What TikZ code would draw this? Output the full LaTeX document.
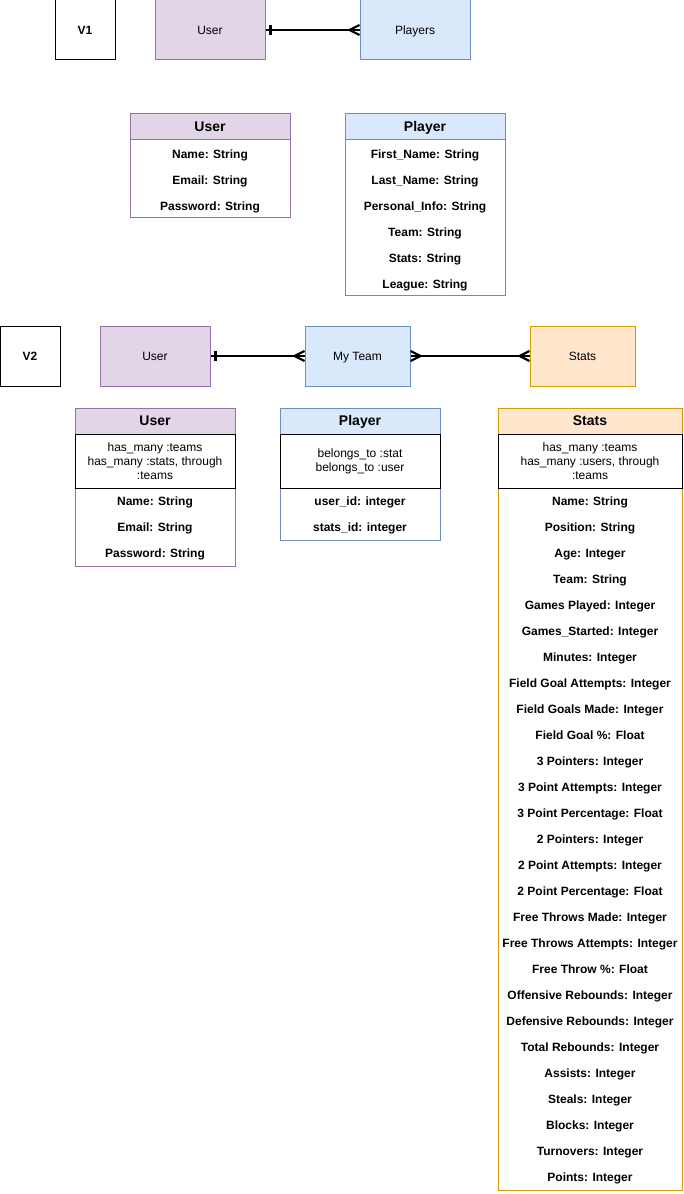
\documentclass[tikz,border=0pt]{standalone}
\usepackage{fontspec}
\setmainfont{Liberation Sans}
\usetikzlibrary{calc}
\definecolor{pfill}{HTML}{E1D5E7}
\definecolor{pstroke}{HTML}{9673A6}
\definecolor{bfill}{HTML}{DAE8FC}
\definecolor{bstroke}{HTML}{6C8EBF}
\definecolor{ofill}{HTML}{FFE6CC}
\definecolor{ostroke}{HTML}{D79B00}
\begin{document}
\begin{tikzpicture}[x=0.75pt,y=-0.75pt,
  box/.style 2 args={draw, minimum width=#1*0.75pt, minimum height=#2*0.75pt, inner sep=0pt, line width=0.75pt},
  oneline/.style={text height=0.85em, text depth=0.15em},
  lbl/.style={oneline, font=\fontsize{9}{11}\selectfont},
  blbl/.style={oneline, font=\fontsize{9}{11}\selectfont\bfseries},
  hdr/.style={oneline, font=\fontsize{10.5}{12}\selectfont\bfseries},
  field/.style={oneline, inner sep=0pt, font=\fontsize{9}{11}\selectfont\bfseries},
  rel/.style={draw=black, fill=white, align=center, font=\fontsize{9}{10.5}\selectfont},
  conn/.style={line width=1.6pt, black},
  purple/.style={draw=pstroke, fill=pfill},
  blue/.style={draw=bstroke, fill=bfill},
  orange/.style={draw=ostroke, fill=ofill}]
\useasboundingbox (0,0) rectangle (683,1194);

% ---------- V1 ----------
\node[box={60}{60}, blbl] (v1) at (85,30) {V1};
\node[box={110}{60}, purple, lbl] (u1) at (210,30) {User};
\node[box={110}{60}, blue, lbl] (p1) at (415,30) {Players};
\draw[conn] (u1.east) -- (p1.west);
\draw[conn] ($(u1.east)+(5,-5)$) -- ($(u1.east)+(5,5)$);
\draw[conn] ($(p1.west)+(-10,0)$) -- ($(p1.west)+(0,-5)$);
\draw[conn] ($(p1.west)+(-10,0)$) -- ($(p1.west)+(0,5)$);

% V1 User table
\node[box={160}{104}, draw=pstroke, fill=white] (tu1) at (210,166) {};
\node[box={160}{26}, purple, hdr] (tu1h) at (210,127) {User};
\node[field] (tu1a) at (210,154) {Name: String};
\node[field] (tu1b) at (210,180) {Email: String};
\node[field] (tu1c) at (210,206) {Password: String};

% V1 Player table
\node[box={160}{182}, draw=bstroke, fill=white] (tp1) at (425,205) {};
\node[box={160}{26}, blue, hdr] (tp1h) at (425,127) {Player};
\node[field] (tp1a) at (425,154) {First\_Name: String};
\node[field] (tp1b) at (425,180) {Last\_Name: String};
\node[field] (tp1c) at (425,206) {Personal\_Info: String};
\node[field] (tp1d) at (425,232) {Team: String};
\node[field] (tp1e) at (425,258) {Stats: String};
\node[field] (tp1f) at (425,284) {League: String};

% ---------- V2 ----------
\node[box={60}{60}, blbl] (v2) at (30,356) {V2};
\node[box={110}{60}, purple, lbl] (u2) at (155,356) {User};
\node[box={105}{60}, blue, lbl] (m2) at (357.5,356) {My Team};
\node[box={105}{60}, orange, lbl] (s2) at (582.5,356) {Stats};
\draw[conn] (u2.east) -- (m2.west);
\draw[conn] ($(u2.east)+(5,-5)$) -- ($(u2.east)+(5,5)$);
\draw[conn] ($(m2.west)+(-10,0)$) -- ($(m2.west)+(0,-5)$);
\draw[conn] ($(m2.west)+(-10,0)$) -- ($(m2.west)+(0,5)$);
\draw[conn] (m2.east) -- (s2.west);
\draw[conn] ($(m2.east)+(10,0)$) -- ($(m2.east)+(0,-5)$);
\draw[conn] ($(m2.east)+(10,0)$) -- ($(m2.east)+(0,5)$);
\draw[conn] ($(s2.west)+(-10,0)$) -- ($(s2.west)+(0,-5)$);
\draw[conn] ($(s2.west)+(-10,0)$) -- ($(s2.west)+(0,5)$);

% V2 User table
\node[box={160}{158}, draw=pstroke, fill=white] (tu2) at (155,487) {};
\node[box={160}{26}, purple, hdr] (tu2h) at (155,421) {User};
\node[box={160}{54}, rel] (tu2r) at (155,461) {has\_many :teams\\has\_many :stats, through\\:teams};
\node[field] (tu2a) at (155,501) {Name: String};
\node[field] (tu2b) at (155,527) {Email: String};
\node[field] (tu2c) at (155,553) {Password: String};

% V2 Player table
\node[box={160}{132}, draw=bstroke, fill=white] (tp2) at (360,474) {};
\node[box={160}{26}, blue, hdr] (tp2h) at (360,421) {Player};
\node[box={160}{54}, rel] (tp2r) at (360,461) {belongs\_to :stat\\belongs\_to :user};
\node[field] (tp2a) at (360,501) {user\_id: integer};
\node[field] (tp2b) at (360,527) {stats\_id: integer};

% V2 Stats table
\node[box={184}{782}, draw=ostroke, fill=white] (ts2) at (590,799) {};
\node[box={184}{26}, orange, hdr] (ts2h) at (590,421) {Stats};
\node[box={184}{54}, rel] (ts2r) at (590,461) {has\_many :teams\\has\_many :users, through\\:teams};
\foreach \t [count=\i] in {Name: String, Position: String, Age: Integer, Team: String,
  Games Played: Integer, Games\_Started: Integer, Minutes: Integer,
  Field Goal Attempts: Integer, Field Goals Made: Integer, Field Goal \%: Float,
  3 Pointers: Integer, 3 Point Attempts: Integer, 3 Point Percentage: Float,
  2 Pointers: Integer, 2 Point Attempts: Integer, 2 Point Percentage: Float,
  Free Throws Made: Integer, Free Throws Attempts: Integer, Free Throw \%: Float,
  Offensive Rebounds: Integer, Defensive Rebounds: Integer, Total Rebounds: Integer,
  Assists: Integer, Steals: Integer, Blocks: Integer, Turnovers: Integer, Points: Integer}
  {\node[field] (tsf\i) at (590,{501+26*(\i-1)}) {\t};}
\end{tikzpicture}
\end{document}
